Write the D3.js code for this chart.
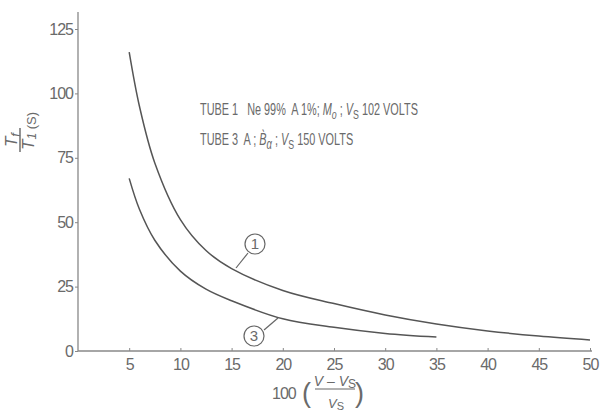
<!DOCTYPE html>
<html lang="en">
	<head>
		<meta charset="utf-8">
		<title>Tube ratio vs overvoltage</title>
		<script src="https://cdn.jsdelivr.net/npm/d3@7"></script>
		<style type="text/css">
body { margin: 0; background: #fff; }
svg text { font-family: "Liberation Sans", Arial, sans-serif; fill: #6a6a6a; }
.tick text { font-size: 16px; letter-spacing: -1px; }
.note { font-size: 16px; white-space: pre; }
		</style>
	</head>
	<body>
		<script type="text/javascript">

			// curve values
			var tube1X = [5, 6, 7.5, 10, 12.5, 15, 20, 25, 30, 35, 40, 45, 50];
			var tube1Y = [116, 95, 73, 51, 39, 32, 23.5, 18.4, 14, 10.5, 7.8, 5.8, 4.3];
			var tube3X = [5, 6, 7.5, 10, 12.5, 15, 20, 25, 30, 35];
			var tube3Y = [67, 55, 43, 31, 24, 19.5, 12.5, 9.2, 6.8, 5.4];

			var xTicks = [5, 10, 15, 20, 25, 30, 35, 40, 45, 50];
			var yTicks = [0, 25, 50, 75, 100, 125];

			var w = 600, h = 413;

			var x = d3.scaleLinear().domain([0, 50]).range([78, 590]);
			var y = d3.scaleLinear().domain([0, 125]).range([351, 29]);

			var svg = d3.select("body").append("svg")
				.attr("width", w)
				.attr("height", h);

			// y axis
			var yAxis = svg.append("g")
				.attr("transform", "translate(78,0)")
				.call(d3.axisLeft(y).tickValues(yTicks).tickSize(3).tickPadding(2));
			yAxis.select(".domain").remove();
			yAxis.selectAll("line").attr("stroke", "#888");
			svg.append("line")
				.attr("x1", 78).attr("x2", 78)
				.attr("y1", 12).attr("y2", 351)
				.attr("stroke", "#888").attr("stroke-width", 1.3);

			// x axis
			var xAxis = svg.append("g")
				.attr("transform", "translate(0,351)")
				.call(d3.axisBottom(x).tickValues(xTicks).tickSize(-3).tickPadding(8));
			xAxis.select(".domain").remove();
			xAxis.selectAll("line").attr("stroke", "#888");
			svg.append("line")
				.attr("x1", 78).attr("x2", 592)
				.attr("y1", 351).attr("y2", 351)
				.attr("stroke", "#888").attr("stroke-width", 1.3);

			// curves
			var line = d3.line()
				.x(function(d) { return x(d[0]); })
				.y(function(d) { return y(d[1]); })
				.curve(d3.curveCatmullRom.alpha(0.5));

			var curves = [d3.zip(tube1X, tube1Y), d3.zip(tube3X, tube3Y)];
			svg.selectAll(".curve")
				.data(curves)
				.enter()
				.append("path")
				.attr("class", "curve")
				.attr("d", line)
				.attr("fill", "none")
				.attr("stroke", "#555")
				.attr("stroke-width", 1.5);

			// circled curve labels with leader lines
			var tags = [
				{ name: "1", cx: 255, cy: 244, x1: 248, y1: 253, x2: 236, y2: 268 },
				{ name: "3", cx: 254, cy: 336, x1: 264, y1: 330, x2: 278, y2: 318 }
			];
			var tag = svg.selectAll(".tag")
				.data(tags)
				.enter().append("g")
				.attr("class", "tag");
			tag.append("circle")
				.attr("cx", function(d) { return d.cx; })
				.attr("cy", function(d) { return d.cy; })
				.attr("r", 10)
				.attr("fill", "none")
				.attr("stroke", "#666")
				.attr("stroke-width", 1.2);
			tag.append("line")
				.attr("x1", function(d) { return d.x1; })
				.attr("y1", function(d) { return d.y1; })
				.attr("x2", function(d) { return d.x2; })
				.attr("y2", function(d) { return d.y2; })
				.attr("stroke", "#666")
				.attr("stroke-width", 1.2);
			tag.append("text")
				.attr("x", function(d) { return d.cx; })
				.attr("y", function(d) { return d.cy + 5; })
				.attr("text-anchor", "middle")
				.attr("font-size", "15px")
				.text(function(d) { return d.name; });

			// notes (condensed lettering, so squeeze horizontally)
			var notes = svg.append("g").attr("transform", "translate(200,0) scale(0.68,1)");
			var n1 = notes.append("text").attr("class", "note").attr("x", 0).attr("y", 115);
			n1.append("tspan").text("TUBE 1   Ne 99%  A 1%; ");
			n1.append("tspan").attr("font-style", "italic").text("M");
			n1.append("tspan").attr("font-style", "italic").attr("font-size", "13px").attr("dy", 4).text("o");
			n1.append("tspan").attr("dy", -4).text(" ; ");
			n1.append("tspan").attr("font-style", "italic").text("V");
			n1.append("tspan").attr("font-size", "13px").attr("dy", 4).text("S");
			n1.append("tspan").attr("dy", -4).text(" 102 VOLTS");

			var n2 = notes.append("text").attr("class", "note").attr("x", 0).attr("y", 145);
			n2.append("tspan").text("TUBE 3  A ; ");
			n2.append("tspan").attr("font-style", "italic").text("B\u0300");
			n2.append("tspan").attr("font-style", "italic").attr("font-size", "14px").attr("dy", 4).text("\u03b1");
			n2.append("tspan").attr("dy", -4).text(" ; ");
			n2.append("tspan").attr("font-style", "italic").text("V");
			n2.append("tspan").attr("font-size", "13px").attr("dy", 4).text("S");
			n2.append("tspan").attr("dy", -4).text(" 150 VOLTS");

			// y axis label: Tf / T1(S), rotated
			var yl = svg.append("g").attr("transform", "translate(20,140) rotate(-90)");
			var num = yl.append("text").attr("x", 0).attr("y", -3).attr("text-anchor", "middle").attr("font-size", "17px");
			num.append("tspan").attr("font-style", "italic").text("T");
			num.append("tspan").attr("font-style", "italic").attr("font-size", "13px").attr("dy", 3).text("f");
			yl.append("line").attr("x1", -12).attr("x2", 12).attr("y1", 0).attr("y2", 0)
				.attr("stroke", "#666").attr("stroke-width", 1.4);
			var den = yl.append("text").attr("x", -10).attr("y", 14).attr("font-size", "17px");
			den.append("tspan").attr("font-style", "italic").text("T");
			den.append("tspan").attr("font-style", "italic").attr("font-size", "12px").attr("dy", 2).text("1");
			den.append("tspan").attr("font-size", "13px").attr("dy", 0).text(" (S)");

			// x axis label: 100 ((V - Vs)/Vs)
			svg.append("text").attr("x", 272).attr("y", 399).attr("font-size", "16px").attr("letter-spacing", "-1px").text("100");
			svg.append("text").attr("x", 302).attr("y", 402).attr("font-size", "27px").text("(");
			svg.append("text").attr("x", 355).attr("y", 402).attr("font-size", "27px").text(")");
			var xn = svg.append("text").attr("x", 335).attr("y", 386).attr("text-anchor", "middle").attr("font-size", "14px");
			xn.append("tspan").attr("font-style", "italic").text("V \u2013 V");
			xn.append("tspan").attr("font-size", "12px").attr("dy", 2).text("S");
			svg.append("line").attr("x1", 315).attr("x2", 355).attr("y1", 389).attr("y2", 389)
				.attr("stroke", "#666").attr("stroke-width", 1.2);
			var xd = svg.append("text").attr("x", 336).attr("y", 408).attr("text-anchor", "middle").attr("font-size", "13px");
			xd.append("tspan").attr("font-style", "italic").text("V");
			xd.append("tspan").attr("font-size", "11px").attr("dy", 2).text("S");

		</script>
	</body>
</html>
